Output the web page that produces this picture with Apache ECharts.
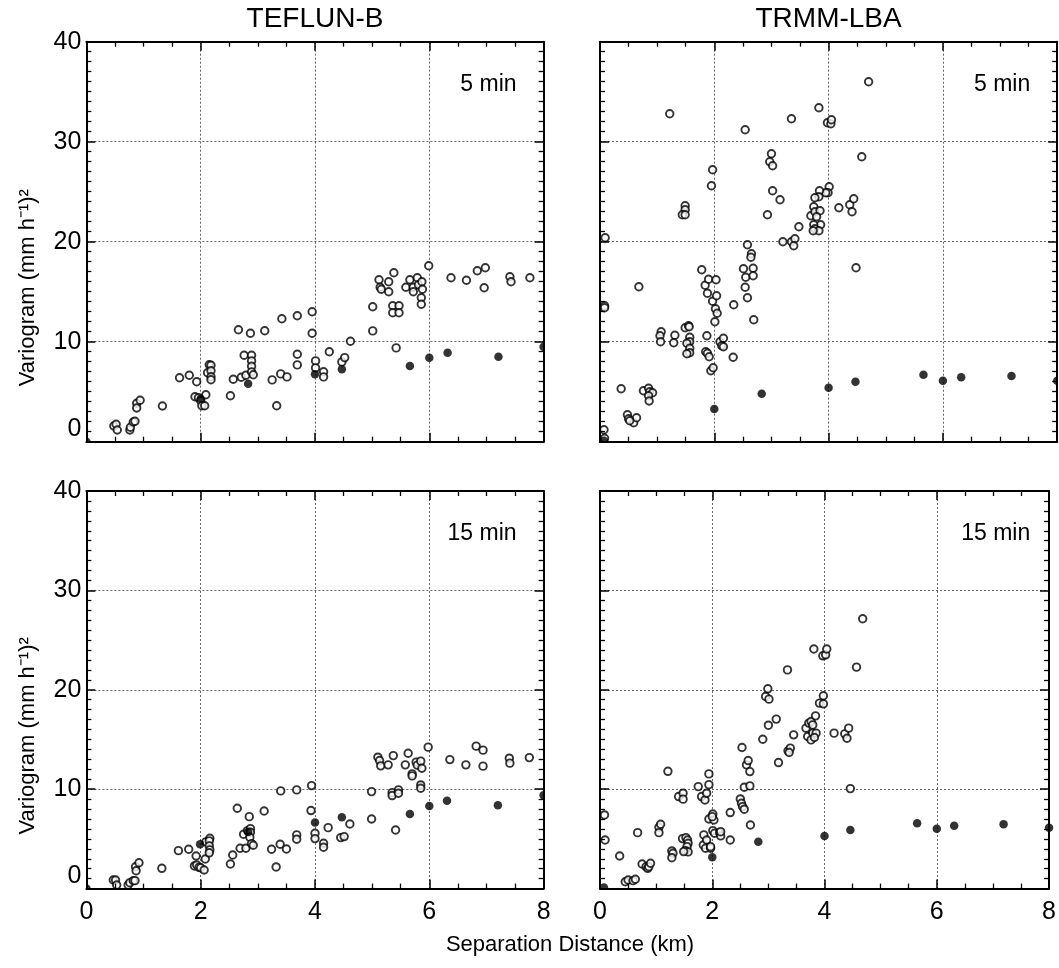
<!DOCTYPE html>
<html><head><meta charset="utf-8">
<script src="https://cdn.jsdelivr.net/npm/echarts@6/dist/echarts.min.js"></script>
<style>html,body{margin:0;padding:0;background:#fff}#c{width:1059px;height:968px}</style>
</head><body><div id="c"></div>
<script>
const columnTitles = ['TEFLUN-B', 'TRMM-LBA'];
const rowLabels = ['5 min', '15 min'];
const yAxisName = 'Variogram (mm h\u207B\u00B9)\u00B2';
const xAxisName = 'Separation Distance (km)';
const xMin = 0, xMax = 8, xStep = 2;
const yMin = 0, yMax = 40, yStep = 10;

// TEFLUN-B, 5 min
const tefB5Open = [[0.48,1.57],[0.52,1.74],[0.54,1.17],[0.76,1.17],[0.77,1.44],[0.82,1.97],[0.85,2.04],
[0.88,3.84],[0.88,3.37],[0.94,4.14],[1.33,3.57],[1.63,6.4],[1.80,6.65],[1.93,6.0],
[1.90,4.5],[1.96,4.4],[2.0,4.1],[2.02,3.6],[2.07,3.6],[2.09,4.7],
[2.15,7.7],[2.18,7.65],[2.12,6.9],[2.18,7.1],[2.18,6.5],[2.18,6.2],
[2.66,11.2],[2.87,10.85],[3.12,11.1],[3.42,12.3],[3.69,12.6],[3.95,13.0],[3.95,10.85],
[2.52,4.6],[2.57,6.25],[2.71,6.45],[2.79,6.65],[2.76,8.65],
[2.89,8.65],[2.89,8.08],[2.89,7.55],[2.89,6.98],[2.92,6.7],
[3.25,6.18],[3.33,3.6],[3.40,6.78],[3.51,6.48],[3.69,8.75],[3.69,7.68],
[4.01,8.08],[4.01,7.38],[4.15,7.0],[4.15,6.48],[4.25,9.0],[4.47,7.98],[4.52,8.41],[4.62,10.05],
[5.01,11.08],[5.01,13.5],[5.12,16.2],[5.14,15.45],[5.16,15.25],[5.29,16.0],[5.29,15.0],[5.38,16.9],
[5.36,13.6],[5.47,13.6],[5.36,12.9],[5.47,12.9],[5.42,9.38],
[5.59,15.45],[5.66,16.2],[5.72,15.45],[5.72,15.0],[5.79,16.4],[5.81,15.7],[5.87,16.0],[5.88,15.25],[5.86,14.4],[5.86,13.75],
[5.99,17.6],[6.38,16.4],[6.65,16.15],[6.84,17.1],[6.98,17.4],[6.96,15.4],[7.41,16.5],[7.43,16.0],[7.76,16.4]];
const tefB5Filled = [[0,0],[2.0,4.3],[2.83,5.8],[4.0,6.75],[4.47,7.25],[5.66,7.58],[6.0,8.4],[6.32,8.9],[7.21,8.5],[8.0,9.5]];

// TRMM-LBA, 5 min
const lba5Open = [[1.22,32.8],[2.54,31.2],[3.35,32.3],[3.83,33.4],[3.98,31.9],[4.04,31.8],[4.05,32.2],[4.70,36.0],[4.58,28.5],
[1.97,27.2],[1.95,25.6],[3.0,28.8],[2.97,28.0],[3.02,27.6],[3.02,25.1],[3.15,24.2],[2.93,22.7],
[1.49,23.6],[1.49,23.2],[1.44,22.7],[1.49,22.7],[0.09,20.4],[2.58,19.7],
[3.2,20.0],[3.35,20.0],[3.41,20.3],[3.39,19.6],[3.48,21.5],
[4.01,25.5],[3.99,24.9],[3.95,24.9],[3.84,25.1],[3.83,24.5],[3.76,24.4],[3.74,23.5],[3.69,22.6],[3.76,23.0],[3.85,23.1],
[3.79,22.5],[3.86,21.7],[3.74,21.7],[3.76,21.3],[3.83,21.1],[3.73,21.1],
[4.18,23.4],[4.37,23.7],[4.44,24.3],[4.41,23.0],[4.48,17.4],
[0.08,13.6],[0.08,13.4],[0.68,15.5],[1.78,17.2],
[1.84,15.65],[1.90,16.25],[2.03,16.2],[1.88,14.85],[1.97,14.05],[2.04,14.6],[2.02,13.3],[2.05,12.85],[2.01,12.0],[2.34,13.7],
[2.65,18.8],[2.64,18.45],[2.68,17.35],[2.51,17.3],[2.55,16.45],[2.68,16.6],[2.54,15.45],[2.58,14.4],[2.69,12.2],
[1.07,11.0],[1.05,10.6],[1.06,10.0],[1.31,10.65],[1.29,9.9],
[1.49,11.4],[1.55,11.6],[1.56,11.5],[1.57,10.45],[1.57,10.0],[1.52,9.85],[1.57,9.35],[1.57,8.9],[1.52,8.8],
[1.87,10.6],[1.85,9.0],[1.88,8.85],[1.91,8.5],[1.94,7.1],[1.98,7.4],
[2.10,10.0],[2.16,10.35],[2.13,9.6],[2.16,9.5],[2.33,8.45],
[0.37,5.3],[0.76,5.1],[0.85,5.35],[0.87,5.0],[0.92,4.9],[0.85,4.6],[0.86,4.07],
[0.48,2.7],[0.50,2.3],[0.59,1.9],[0.64,2.4],[0.52,2.1],[0.07,1.2],[0.08,0.35]];
const lba5Filled = [[0.07,0.1],[2.0,3.27],[2.83,4.8],[4.0,5.4],[4.47,6.0],[5.66,6.7],[6.0,6.1],[6.32,6.45],[7.2,6.58],[8.0,6.1]];

// TEFLUN-B, 15 min
const tefB15Open = [[0.47,0.87],[0.51,0.87],[0.53,0.36],[0.73,0.36],[0.76,0.6],[0.82,0.8],[0.85,0.8],
[0.86,2.2],[0.87,1.8],[0.92,2.6],[1.32,2.04],[1.61,3.82],[1.79,3.96],[1.92,3.28],
[1.89,2.28],[1.93,2.38],[1.97,2.14],[2.0,2.1],[2.06,1.87],[2.08,2.98],
[2.09,4.7],[2.16,5.07],[2.15,4.8],[2.15,4.3],[2.16,3.9],[2.15,3.6],
[2.52,2.48],[2.56,3.38],[2.64,8.08],[2.69,4.06],[2.79,4.06],[2.75,5.47],[2.85,7.24],
[2.82,5.83],[2.87,6.03],[2.87,5.67],[2.86,5.17],[2.89,4.52],[2.92,4.36],
[3.11,7.81],[3.24,3.96],[3.32,2.18],[3.39,4.46],[3.5,3.98],[3.40,9.83],[3.68,9.93],[3.68,5.4],[3.68,4.96],
[3.94,10.36],[3.93,7.85],[4.0,5.57],[4.0,5.03],
[4.15,4.56],[4.15,4.16],[4.23,6.13],[4.45,5.13],[4.51,5.23],[4.61,6.5],
[4.99,7.0],[4.99,9.76],[5.10,13.22],[5.13,12.88],[5.15,12.35],[5.28,12.45],[5.37,13.38],
[5.35,9.66],[5.35,9.36],[5.46,9.93],[5.46,9.6],[5.41,5.9],
[5.58,12.45],[5.63,13.62],[5.70,11.54],[5.70,11.34],[5.77,12.72],[5.79,12.42],[5.85,12.82],[5.87,12.11],[5.85,10.43],[5.85,10.1],
[5.98,14.23],[6.36,12.98],[6.64,12.45],[6.82,14.33],[6.94,13.93],[6.94,12.32],[7.40,13.12],[7.41,12.62],[7.75,13.18]];
const tefB15Filled = [[0,0],[1.99,4.46],[2.83,5.7],[4.0,6.64],[4.47,7.18],[5.66,7.51],[6.0,8.32],[6.31,8.85],[7.2,8.39],[8.0,9.4]];

// TRMM-LBA, 15 min
const lba15Open = [[0.08,7.41],[0.09,4.89],[0.35,3.28],[0.45,0.69],[0.50,0.87],[0.59,0.80],[0.63,0.94],[0.67,5.63],
[0.75,2.48],[0.82,2.2],[0.85,2.04],[0.87,2.2],[0.90,2.55],[1.05,6.17],[1.08,6.47],[1.05,5.63],[1.21,11.8],
[1.28,3.79],[1.30,3.55],[1.28,3.11],[1.40,9.26],[1.48,9.6],[1.48,9.0],
[1.47,5.03],[1.53,5.13],[1.56,4.89],[1.57,4.56],[1.55,4.22],[1.52,3.82],[1.57,3.69],[1.49,3.72],
[1.75,10.26],[1.81,9.26],[1.87,8.92],[1.90,9.6],[1.94,11.54],[1.94,10.46],
[1.85,5.4],[1.84,4.39],[1.90,4.89],[1.88,4.06],[1.97,4.06],[1.97,4.22],
[1.94,7.0],[2.01,7.51],[2.03,6.9],[2.0,7.24],[2.01,5.83],[2.04,5.57],[2.13,5.63],[2.15,5.3],[2.15,5.73],
[2.32,7.65],[2.32,4.89],[2.50,9.02],[2.52,8.59],[2.54,8.25],[2.57,7.99],
[2.53,14.19],[2.61,12.45],[2.64,12.88],[2.67,11.77],[2.57,10.2],[2.67,10.33],[2.68,6.4],
[2.90,15.03],[3.0,16.44],[2.99,20.1],[2.95,19.33],[3.01,19.06],[3.14,17.05],[3.18,12.68],[3.34,22.0],
[3.35,13.86],[3.39,14.13],[3.37,13.69],[3.45,15.47],
[3.67,16.14],[3.72,16.65],[3.76,16.81],[3.79,16.47],[3.84,17.38],[3.70,15.3],[3.79,15.64],[3.85,15.64],[3.76,14.96],[3.82,15.2],
[3.81,24.1],[3.97,23.42],[4.02,23.52],[4.04,24.1],[4.68,27.15],[4.57,22.28],
[3.98,19.4],[3.91,18.66],[3.98,18.59],[4.17,15.64],[4.36,15.57],[4.43,16.14],[4.40,15.13],[4.46,10.06]];
const lba15Filled = [[0.07,0.1],[2.0,3.15],[2.82,4.72],[4.0,5.3],[4.46,5.9],[5.65,6.57],[6.0,6.03],[6.31,6.33],[7.19,6.47],[8.0,6.13]];

const panelOpen = [tefB5Open, lba5Open, tefB15Open, lba15Open];
const panelFilled = [tefB5Filled, lba5Filled, tefB15Filled, lba15Filled];

const FONT = "'Liberation Sans', Arial, Helvetica, sans-serif";
const INK = '#000';
const W = 1059, H = 968;
const grids = [
  {left: 86.4, top: 41.7, width: 457.2, height: 400},
  {left: 600, top: 41.7, width: 457.2, height: 400},
  {left: 86.4, top: 491, width: 457.2, height: 397.6},
  {left: 600, top: 491, width: 457.2, height: 397.6}
];

const xAxes = [], yAxes = [], series = [];
grids.forEach((g, i) => {
  const common = {
    gridIndex: i, type: 'value', z: 10,
    axisLine: {show: true, onZero: false, lineStyle: {color: INK, width: 2}},
    axisTick: {show: true, inside: true, length: 9, lineStyle: {color: INK, width: 1.5}},
    splitLine: {show: false}, minorSplitLine: {show: false}
  };
  const minor = {show: true, length: 5, lineStyle: {color: INK, width: 1.3}};
  const xBase = Object.assign({}, common, {min: xMin, max: xMax, interval: xStep,
    minorTick: Object.assign({}, minor, {splitNumber: 4})});
  const yBase = Object.assign({}, common, {min: yMin, max: yMax, interval: yStep,
    minorTick: Object.assign({}, minor, {splitNumber: 10})});
  // frame axes (bottom/left with labels, top/right mirrors)
  xAxes.push(Object.assign({}, xBase, {position: 'bottom',
    axisLabel: {show: i >= 2, margin: 11, color: INK, fontFamily: FONT, fontSize: 25}}));
  xAxes.push(Object.assign({}, xBase, {position: 'top', axisLabel: {show: false}}));
  yAxes.push(Object.assign({}, yBase, {position: 'left',
    axisLabel: {show: i % 2 === 0, margin: 5, color: INK, fontFamily: FONT, fontSize: 25,
      verticalAlignMinLabel: 'bottom'}}));
  yAxes.push(Object.assign({}, yBase, {position: 'right', axisLabel: {show: false}}));
  // grid-line-only axes drawn beneath the points
  const gridOnly = {gridIndex: i, type: 'value', z: 0, axisLine: {show: false}, axisTick: {show: false},
    axisLabel: {show: false}, minorTick: {show: false},
    splitLine: {show: true, showMinLine: false, showMaxLine: false, lineStyle: {color: '#666', width: 1, type: [2, 2]}}};
  xAxes.push(Object.assign({}, gridOnly, {min: xMin, max: xMax, interval: xStep, position: 'bottom', offset: 0}));
  yAxes.push(Object.assign({}, gridOnly, {min: yMin, max: yMax, interval: yStep, position: 'left', offset: 0}));
  const xi = xAxes.length - 3, yi = yAxes.length - 3;
  series.push({type: 'scatter', xAxisIndex: xi, yAxisIndex: yi, data: panelOpen[i],
    symbol: 'circle', symbolSize: 7.5, itemStyle: {color: '#fff', borderColor: INK, borderWidth: 1.9}, z: 3});
  series.push({type: 'scatter', xAxisIndex: xi, yAxisIndex: yi, data: panelFilled[i],
    symbol: 'circle', symbolSize: 8.5, itemStyle: {color: INK, borderColor: INK, borderWidth: 0}, z: 4});
});

// white masks outside the plot areas so marks sitting on a frame are cut at the frame
const g0 = grids[0], g1 = grids[1], g2 = grids[2];
const maskRects = [
  [0, 0, g0.left, H],
  [g0.left + g0.width, 0, g1.left - (g0.left + g0.width), H],
  [g1.left + g1.width, 0, W - (g1.left + g1.width), H],
  [0, 0, W, g0.top],
  [0, g0.top + g0.height, W, g2.top - (g0.top + g0.height)],
  [0, g2.top + g2.height, W, H - (g2.top + g2.height)]
];
const elements = maskRects.map(r => ({type: 'rect', z: 5, silent: true,
  shape: {x: r[0], y: r[1], width: r[2], height: r[3]}, style: {fill: '#fff'}}));

columnTitles.forEach((t, c) => {
  const g = grids[c];
  elements.push({type: 'text', z: 20, x: g.left + g.width / 2, y: 19,
    style: {text: t, fill: INK, font: '28px ' + FONT, align: 'center', verticalAlign: 'middle'}});
});
grids.forEach((g, i) => {
  elements.push({type: 'text', z: 20, x: g.left + g.width - 27, y: g.top + 43,
    style: {text: rowLabels[Math.floor(i / 2)], fill: INK, font: '23px ' + FONT, align: 'right', verticalAlign: 'middle'}});
});
[0, 2].forEach(i => {
  const g = grids[i];
  elements.push({type: 'text', z: 20, x: 28, y: g.top + g.height / 2 + 46, rotation: Math.PI / 2,
    style: {text: yAxisName, fill: INK, font: '22px ' + FONT, align: 'center', verticalAlign: 'middle'}});
});
elements.push({type: 'text', z: 20, x: 570, y: 945,
  style: {text: xAxisName, fill: INK, font: '22px ' + FONT, align: 'center', verticalAlign: 'middle'}});

const chart = echarts.init(document.getElementById('c'), null, {renderer: 'canvas'});
chart.setOption({
  animation: false,
  backgroundColor: '#fff',
  grid: grids,
  xAxis: xAxes,
  yAxis: yAxes,
  series: series,
  graphic: {elements: elements}
});
</script></body></html>
